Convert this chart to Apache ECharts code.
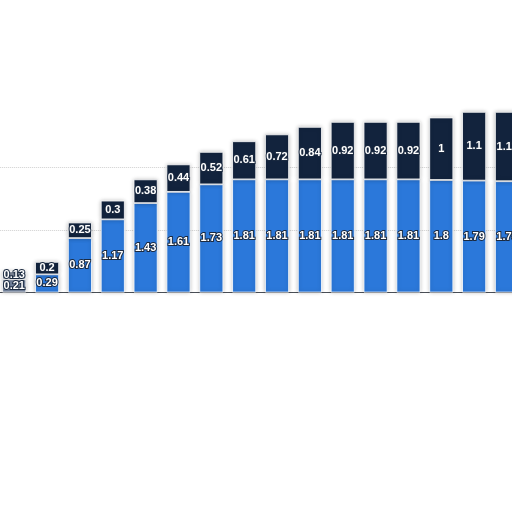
<!DOCTYPE html>
<html lang="en">
<head>
    <meta charset="UTF-8">
    <title>Stacked bars</title>
    <script src="https://cdn.jsdelivr.net/npm/echarts@6/dist/echarts.min.js"></script>
    <style>
        html, body { margin: 0; padding: 0; background: #fff; }
        #myChart { width: 512px; height: 512px; }
    </style>
</head>
<body>
<div id="myChart"></div>
<script type="text/javascript">
    // categories are not readable in the picture (axis labels faded out)
    var categories = ['1', '2', '3', '4', '5', '6', '7', '8', '9', '10', '11', '12', '13', '14', '15', '16'];
    // lower (blue) segment
    var lowerValues = [0.21, 0.29, 0.87, 1.17, 1.43, 1.61, 1.73, 1.81, 1.81, 1.81, 1.81, 1.81, 1.81, 1.8, 1.79, 1.78];
    // upper (dark navy) segment
    var upperValues = [0.13, 0.2, 0.25, 0.3, 0.38, 0.44, 0.52, 0.61, 0.72, 0.84, 0.92, 0.92, 0.92, 1, 1.1, 1.11];
    var yTicks = [0, 1, 2, 3];

    var labelStyle = {
        show: true,
        position: 'inside',
        color: '#fff',
        fontFamily: 'Liberation Sans',
        fontWeight: 'bold',
        fontSize: 11,
        textBorderColor: '#1b2a40',
        textBorderWidth: 2
    };

    // first bar looks greyed out in the reference
    function fade(arr, grey) {
        return arr.map(function (v, i) {
            return i === 0 ? { value: v, itemStyle: { color: grey } } : v;
        });
    }

    var myChart = echarts.init(document.getElementById('myChart'));
    myChart.setOption({
        animation: false,
        grid: { left: -2.2, right: -11.4, top: 105, bottom: 219.5, outerBoundsMode: 'none', containLabel: false },
        xAxis: {
            type: 'category',
            data: categories,
            axisLine: { lineStyle: { color: '#4a4f57', width: 1.2 } },
            axisTick: { show: false },
            axisLabel: { show: false }
        },
        yAxis: {
            type: 'value',
            min: yTicks[0],
            max: yTicks[yTicks.length - 1],
            interval: 1,
            axisLabel: { show: false },
            axisLine: { show: false },
            axisTick: { show: false },
            splitLine: {
                lineStyle: {
                    type: 'dotted',
                    color: ['#cfcfcf', '#cfcfcf', '#cfcfcf', 'rgba(0,0,0,0)']
                }
            }
        },
        series: [
            {
                name: 'lower',
                type: 'bar',
                stack: 'total',
                barWidth: 24,
                data: fade(lowerValues, '#71819b'),
                label: labelStyle,
                itemStyle: {
                    color: '#2b78da',
                    borderColor: '#fff',
                    borderWidth: 0.8,
                    shadowColor: 'rgba(0,0,0,0.25)',
                    shadowBlur: 4
                }
            },
            {
                name: 'upper',
                type: 'bar',
                stack: 'total',
                barWidth: 24,
                data: fade(upperValues, '#7b8494'),
                label: labelStyle,
                itemStyle: {
                    color: '#12233d',
                    borderColor: '#fff',
                    borderWidth: 0.8,
                    shadowColor: 'rgba(0,0,0,0.25)',
                    shadowBlur: 4
                }
            }
        ]
    });
</script>
</body>
</html>
